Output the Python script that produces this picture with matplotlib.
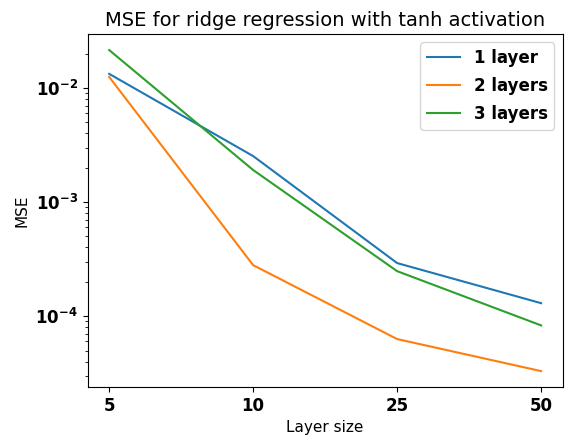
import matplotlib
matplotlib.use("Agg")
import matplotlib.pyplot as plt

layer_sizes = ["5", "10", "25", "50"]
mse_1_layer = [0.0133, 0.00253, 2.92e-4, 1.30e-4]
mse_2_layers = [0.0125, 2.80e-4, 6.3e-5, 3.3e-5]
mse_3_layers = [0.0215, 0.00191, 2.48e-4, 8.3e-5]

fig = plt.figure(figsize=(5.65, 4.36), dpi=100)
ax = fig.add_axes([0.155, 0.112, 0.841, 0.81])

x = range(len(layer_sizes))
ax.plot(x, mse_1_layer, label="1 layer")
ax.plot(x, mse_2_layers, label="2 layers")
ax.plot(x, mse_3_layers, label="3 layers")
ax.set_yscale("log")
ax.set_xticks(list(x))
ax.set_xticklabels(layer_sizes)

for lbl in ax.get_xticklabels() + ax.get_yticklabels():
    lbl.set_fontweight("bold")
    lbl.set_fontsize(12)

ax.set_title("MSE for ridge regression with tanh activation", fontsize=14)
ax.set_xlabel("Layer size", fontsize=11)
ax.set_ylabel("MSE", fontsize=11)
ax.legend(prop={"weight": "bold", "size": 12}, labelspacing=0.6)

fig.savefig("out.png", dpi=100)
